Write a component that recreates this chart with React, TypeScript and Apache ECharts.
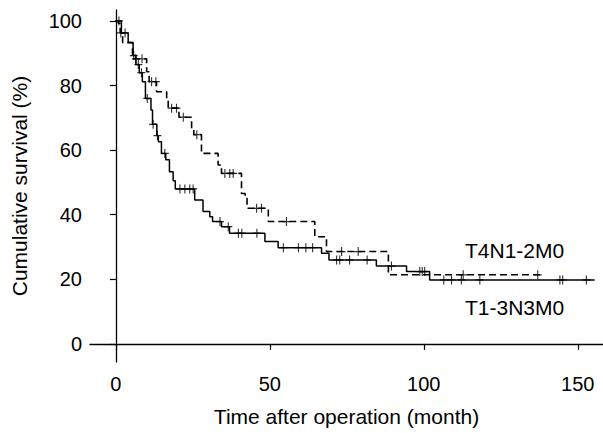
import React, { useEffect, useRef } from "react";
import * as echarts from "echarts";

// T1-3N3M0 (solid): [time of drop, survival after drop]
const solidSteps: [number, number][] = [
  [0, 100], [1.8, 96.3], [4.0, 93.3], [5.6, 89.3], [6.5, 86.5], [7.6, 84], [8.6, 81.2],
  [9.6, 76], [11.4, 72.4], [11.9, 68], [13.3, 64.5], [13.8, 62.6], [14.8, 59], [16.2, 57],
  [17.4, 53.3], [18.6, 50.5], [19.3, 48], [25.6, 44.6], [28.3, 41], [30.5, 39.4],
  [31.4, 37.9], [34.3, 36.3], [36.9, 34.3], [48.4, 31.7], [52.7, 29.8], [66.8, 28.1],
  [69.2, 26], [84.6, 24.1], [94.4, 22.4], [101.9, 19.8], [155.5, 19.8],
];
const solidCensor: number[] = [
  1.0, 3.0, 5.8, 7.3, 8.3, 10.2, 12.1, 13.5, 15.9, 20.8, 22.4, 24.0, 25.1, 33.8, 36.5,
  39.8, 40.9, 45.8, 54.4, 59.3, 61.7, 63.9, 71.7, 72.7, 75.9, 81.6, 89.5, 98.7, 99.5,
  100.3, 106.5, 109, 112.2, 118.2, 144.2, 145.1, 152.8,
];

// T4N1-2M0 (dashed)
const dashedSteps: [number, number][] = [
  [0, 100], [0.8, 99.3], [1.4, 96.3], [2.2, 93.3], [5.4, 88.3], [10, 84.3], [10.8, 81.2],
  [13.2, 78.1], [16.5, 75.5], [17.0, 73], [20.5, 70.2], [24.6, 66.3], [25.3, 64.8],
  [27.8, 59], [33.2, 55.4], [34.3, 52.8], [40.8, 46.6], [42.0, 45.1], [42.6, 42],
  [49.5, 37.9], [64.6, 33.2], [68.4, 28.6], [88.5, 21.4], [138, 21.4],
];
const dashedCensor: number[] = [
  1.6, 6.5, 8.5, 11.6, 13.0, 18.1, 19.7, 21.9, 26.3, 35.4, 37.0, 38.1, 45.7, 47.3, 55.4,
  73.3, 78.7, 112.8, 137,
];

const xTicks = [0, 50, 100, 150];
const yTicks = [0, 20, 40, 60, 80, 100];
const groupLabels = ["T4N1-2M0", "T1-3N3M0"];

const levelAt = (steps: [number, number][], t: number) => {
  let v = steps[0][1];
  for (const [x, y] of steps) {
    if (x <= t) v = y;
  }
  return v;
};

const FONT = "'Liberation Sans', Arial, Helvetica, sans-serif";
const PLUS = "path://M0,-1L0,1M-1,0L1,0";

export default function App() {
  const ref = useRef<HTMLDivElement>(null);
  useEffect(() => {
    if (!ref.current) return;
    const chart = echarts.init(ref.current, undefined, { renderer: "svg" });
    const censorStyle = { color: "#000", borderColor: "#000", borderWidth: 1.2 };
    chart.setOption({
      animation: false,
      backgroundColor: "#fff",
      grid: { left: 90, right: 0, top: 10, bottom: 71, containLabel: false },
      xAxis: {
        type: "value",
        min: -8.4,
        max: 158.2,
        name: "Time after operation (month)",
        nameLocation: "middle",
        nameGap: 44,
        nameTextStyle: { fontFamily: FONT, fontSize: 21, color: "#000" },
        axisLine: { show: true, lineStyle: { color: "#000", width: 1.3 } },
        axisTick: { show: true, length: 6, customValues: xTicks, lineStyle: { color: "#000", width: 1.2 } },
        axisLabel: { customValues: xTicks, margin: 12, fontFamily: FONT, fontSize: 20, color: "#000" },
        splitLine: { show: false },
      },
      yAxis: {
        type: "value",
        min: -5.6,
        max: 103.4,
        name: "Cumulative survival (%)",
        nameLocation: "middle",
        nameGap: 60,
        nameRotate: 90,
        nameTextStyle: { fontFamily: FONT, fontSize: 21, color: "#000" },
        axisLine: { show: true, lineStyle: { color: "#000", width: 1.3 } },
        axisTick: { show: true, length: 6, customValues: yTicks, lineStyle: { color: "#000", width: 1.2 } },
        axisLabel: { customValues: yTicks, margin: 8, fontFamily: FONT, fontSize: 20, color: "#000" },
        splitLine: { show: false },
      },
      series: [
        {
          type: "line",
          step: "end",
          data: solidSteps,
          showSymbol: false,
          lineStyle: { color: "#000", width: 1.5 },
        },
        {
          type: "line",
          step: "end",
          data: dashedSteps,
          showSymbol: false,
          lineStyle: { color: "#000", width: 1.6, type: [7, 4] },
        },
        {
          type: "scatter",
          data: solidCensor.map((t) => [t, levelAt(solidSteps, t)]),
          symbol: PLUS,
          symbolSize: [8, 9],
          itemStyle: censorStyle,
        },
        {
          type: "scatter",
          data: dashedCensor.map((t) => [t, levelAt(dashedSteps, t)]),
          symbol: PLUS,
          symbolSize: [8, 9],
          itemStyle: censorStyle,
        },
      ],
      graphic: [
        {
          type: "text",
          left: 465,
          top: 240,
          style: { text: groupLabels[0], fontFamily: FONT, fontSize: 21, fill: "#000" },
        },
        {
          type: "text",
          left: 465,
          top: 297,
          style: { text: groupLabels[1], fontFamily: FONT, fontSize: 21, fill: "#000" },
        },
      ],
    });
    return () => chart.dispose();
  }, []);
  return (
    <div
      ref={ref}
      style={{ position: "fixed", left: 0, top: 0, width: 603, height: 433, background: "#fff" }}
    />
  );
}
